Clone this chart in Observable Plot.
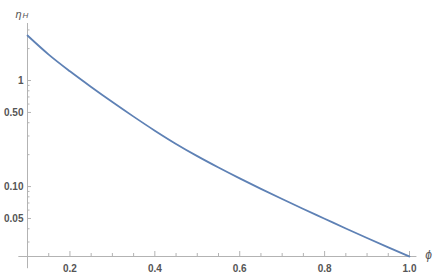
<!DOCTYPE html>
<html><head><meta charset="utf-8">
<script src="https://cdn.jsdelivr.net/npm/d3@7"></script>
<script src="https://cdn.jsdelivr.net/npm/@observablehq/plot@0.6"></script>
<style>body{margin:0;background:#fff} #chart{width:436px;height:277px}</style>
</head><body><div id="chart"></div>
<script>
const phi  = [0.10, 0.15, 0.20, 0.25, 0.30, 0.35, 0.40, 0.45, 0.50, 0.55, 0.60, 0.65, 0.70, 0.75, 0.80, 0.85, 0.90, 0.95, 1.00];
const etaH = [2.657, 1.756, 1.222, 0.870, 0.627, 0.4566, 0.3365, 0.2523, 0.1936, 0.1512, 0.1194, 0.0952, 0.0763, 0.0614, 0.0497, 0.0402, 0.0327, 0.0267, 0.0219];
const xTicks = [0.2, 0.4, 0.6, 0.8, 1.0];
const xTickLabels = ["0.2", "0.4", "0.6", "0.8", "1.0"];
const xMinorTicks = [0.15, 0.25, 0.3, 0.35, 0.45, 0.5, 0.55, 0.65, 0.7, 0.75, 0.85, 0.9, 0.95];
const yTicks = [0.05, 0.1, 0.5, 1];
const yTickLabels = ["0.05", "0.10", "0.50", "1"];
const yMinorTicks = [0.03, 0.04, 0.06, 0.07, 0.08, 0.09, 0.2, 0.3, 0.4, 0.6, 0.7, 0.8, 0.9, 2, 3];
const xDomain = [0.1, 1.0];
const yDomain = [0.0219, 3.45];

const data = phi.map((p, i) => ({phi: p, eta: etaH[i]}));
const axisColor = "#b3b3b3";
const textColor = "#555";
const font = "Liberation Sans, Arial, sans-serif";

const chart = Plot.plot({
  width: 436, height: 277,
  marginLeft: 27, marginRight: 27, marginTop: 23, marginBottom: 21,
  style: {fontFamily: font, background: "#fff"},
  x: {type: "linear", domain: xDomain, axis: null},
  y: {type: "log", domain: yDomain, axis: null},
  marks: [
    Plot.ruleY([yDomain[0]], {x1: 0.0796, x2: 1.0175, stroke: axisColor, strokeWidth: 1}),
    Plot.ruleX([xDomain[0]], {y1: 0.0168, y2: yDomain[1], stroke: axisColor, strokeWidth: 1}),
    Plot.ruleX(xTicks, {x: d => d, y1: yDomain[0], y2: yDomain[0], insetBottom: 5, stroke: axisColor}),
    Plot.ruleX(xMinorTicks, {x: d => d, y1: yDomain[0], y2: yDomain[0], insetBottom: 3, stroke: axisColor}),
    Plot.ruleY(yTicks, {y: d => d, x1: xDomain[0], x2: xDomain[0], insetRight: -4, stroke: axisColor}),
    Plot.ruleY(yMinorTicks, {y: d => d, x1: xDomain[0], x2: xDomain[0], insetRight: -2.5, stroke: axisColor}),
    Plot.text(xTicks, {x: d => d, y: yDomain[0], text: (d, i) => xTickLabels[i], dy: 12, fill: textColor, fontSize: 10, fontWeight: "bold"}),
    Plot.text(yTicks, {x: xDomain[0], y: d => d, text: (d, i) => yTickLabels[i], textAnchor: "end", dx: -4, fill: textColor, fontSize: 10, fontWeight: "bold"}),
    Plot.line(data, {x: "phi", y: "eta", stroke: "#5E81B5", strokeWidth: 1.8, curve: "monotone-x"}),
    Plot.text(["η"], {x: xDomain[0], y: yDomain[1], text: d => d, dx: -9, dy: -9, fill: textColor, fontSize: 11, fontStyle: "italic"}),
    Plot.text(["H"], {x: xDomain[0], y: yDomain[1], text: d => d, dx: -2, dy: -8, fill: textColor, fontSize: 8, fontStyle: "italic"}),
    Plot.text(["ϕ"], {x: xDomain[1], y: yDomain[0], text: d => d, dx: 19, dy: -1, fill: textColor, fontSize: 12, fontStyle: "italic"})
  ]
});
document.getElementById("chart").appendChild(chart);
</script>
</body></html>
